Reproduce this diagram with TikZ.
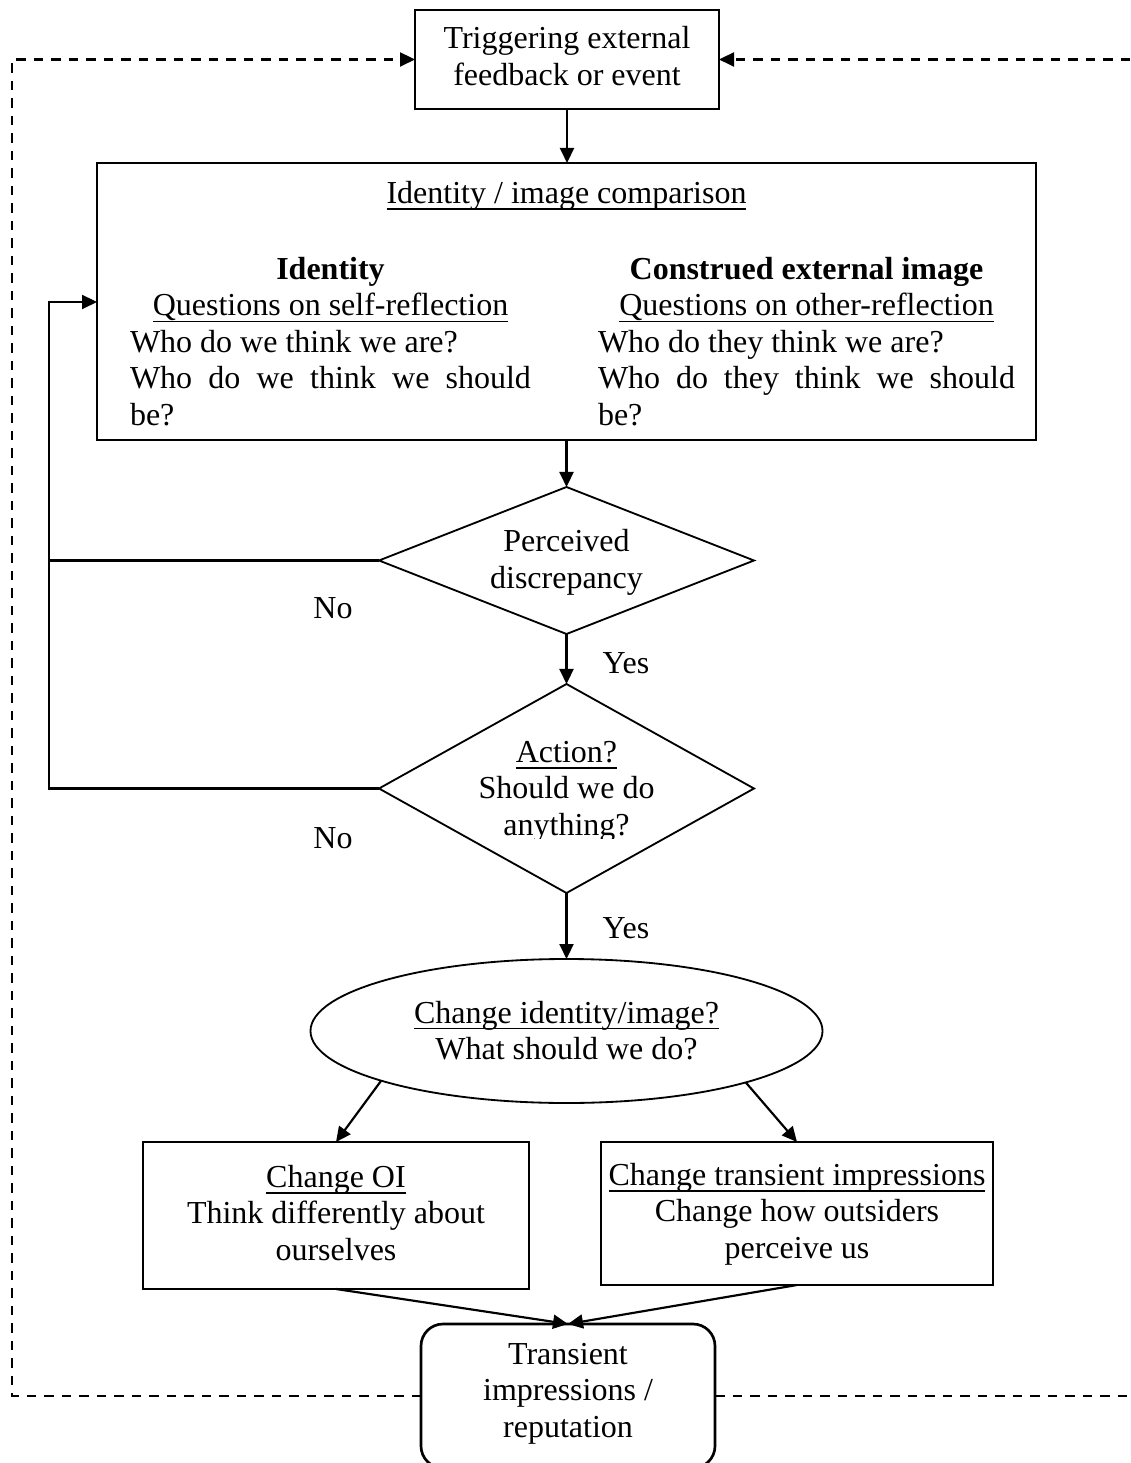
\documentclass[tikz,border=0pt]{standalone}
\usepackage{fontspec}
\setmainfont{Liberation Serif}
\usetikzlibrary{arrows.meta,shapes.geometric}

% underline at a fixed offset below the baseline
\newcommand\uln[1]{\setbox0=\hbox{#1}\rlap{\rule[-1.9pt]{\wd0}{0.5pt}}\box0}
% invisible strut that fixes the height and depth of a label box
\newcommand\lnstrut{\rule[-3.4pt]{0pt}{14.2pt}}
% invisible rule that raises the first line of a multi-line label
\newcommand\firstln[1]{\rule{0pt}{#1}}

\begin{document}
\begin{tikzpicture}[x=0.3pt,y=-0.3pt,
  every node/.style={inner sep=0pt, outer sep=0pt, font=\fontsize{9.6}{10.95}\selectfont},
  sz/.style 2 args={minimum width=#1*0.3pt, minimum height=#2*0.3pt},
  lbl/.style={align=center, execute at begin node=\lnstrut, execute at end node=\lnstrut},
  tbox/.style={lbl, draw, rectangle, line width=0.8pt},
  bigframe/.style={draw, rectangle, line width=0.8pt},
  decide/.style={draw, diamond, line width=0.55pt},
  ovalshape/.style={lbl, draw, ellipse, line width=0.55pt},
  endbox/.style={lbl, draw, rectangle, rounded corners=6.6pt, line width=0.8pt},
  tip/.style={-{Triangle[length=4.5pt,width=4.2pt]}},
  arr/.style={line width=0.65pt, tip},
  plainline/.style={line width=0.65pt},
  dashloop/.style={line width=0.65pt, dash pattern=on 2.85pt off 2.4pt},
]
\useasboundingbox (0,0) rectangle (1130,1463);

% trigger at the top
\node[tbox, sz={304}{99}] (trig) at (567,59.5) {\firstln{7.8pt}Triggering external\\feedback or event};

% comparison frame with its two columns
\node[bigframe, sz={939}{277}] (cmp) at (566.5,301.5) {};
\node[lbl] (cmpt) at (566.5,191) {\uln{Identity / image comparison}};
\node[lbl] (selfq) at (330.5,347) {%
  \makebox[120.3pt]{\bfseries Identity}\\
  \makebox[120.3pt]{\uln{Questions on self-reflection}}\\
  \makebox[120.3pt][l]{Who do we think we are?}\\
  \makebox[120.3pt][s]{Who do we think we should}\\
  \makebox[120.3pt][l]{be?}};
\node[lbl] (otherq) at (806.5,347) {%
  \makebox[125.1pt]{\bfseries Construed external image}\\
  \makebox[125.1pt]{\uln{Questions on other-reflection}}\\
  \makebox[125.1pt][l]{Who do they think we are?}\\
  \makebox[125.1pt][s]{Who do they think we should}\\
  \makebox[125.1pt][l]{be?}};

% decisions
\node[decide, sz={375}{147}] (d1) at (566.5,560.5) {};
\node[lbl] (d1t) at (566.5,564.5) {Perceived\\discrepancy};
\node[decide, sz={375}{209}] (d2) at (566.5,788.5) {};
\begin{scope}
  \clip (380,700) rectangle (754,838.5);
  \node[lbl] (d2t) at (566.5,794) {\uln{Action?}\\Should we do\\anything?};
\end{scope}

\node[lbl] (no1) at (333,606) {No};
\node[lbl] (no2) at (333,836) {No};
\node[lbl] (yes1) at (626,661) {Yes};
\node[lbl] (yes2) at (626,926) {Yes};

% choice and the two kinds of change
\node[ovalshape, sz={512}{144}] (ell) at (566.5,1031) {\firstln{9.6pt}\uln{Change identity/image?}\\What should we do?};
\node[tbox, line width=0.7pt, sz={386}{147}] (lbox) at (336,1215.5) {\firstln{8.4pt}\uln{Change OI}\\Think differently about\\ourselves};
\node[tbox, line width=0.7pt, sz={392}{143}] (rbox) at (797,1213.5) {\firstln{8.4pt}\uln{Change transient impressions}\\Change how outsiders\\perceive us};

% outcome
\node[endbox, sz={294}{144}] (rep) at (568,1396) {Transient\\impressions /\\reputation};

% main flow
\draw[arr] (trig.south) -- (trig.south |- cmp.north);
\draw[arr] (cmp.south) -- (d1.north);
\draw[arr] (d1.south) -- (d2.north);
\draw[arr] (d2.south) -- (ell.north);
\draw[arr] (ell.195.5) -- (lbox.north);
\draw[arr] (ell.344.5) -- (rbox.north);
\draw[arr] (lbox.south) -- (rep.north);
\draw[arr] (rbox.south) -- (rep.north);

% "No" branches back to the comparison
\coordinate (fb) at (49,302);
\draw[arr] (d1.west) -| (fb) -- (fb -| cmp.west);
\draw[plainline] (d2.west) -| (fb |- d1.west);

% dashed feedback from the outcome to the trigger
\coordinate (lc) at (12,0);
\coordinate (rc) at (1130,0);
\draw[dashloop, tip] (rep.west) -- (lc |- rep.west) -- (lc |- trig.west) -- (trig.west);
\draw[dashloop] (rep.east) -- (rc |- rep.east);
\draw[dashloop, tip] (rc |- trig.east) -- (trig.east);
\end{tikzpicture}
\end{document}
